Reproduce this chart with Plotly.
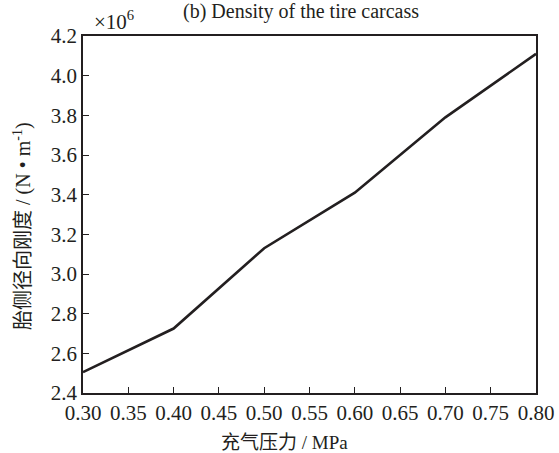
import plotly.graph_objects as go

pressure = [0.3, 0.4, 0.5, 0.6, 0.7, 0.8]
stiffness = [2.505, 2.725, 3.13, 3.41, 3.79, 4.11]  # x10^6 N/m

x_ticks = [0.30, 0.35, 0.40, 0.45, 0.50, 0.55, 0.60, 0.65, 0.70, 0.75, 0.80]
x_tick_text = ["0.30", "0.35", "0.40", "0.45", "0.50", "0.55", "0.60", "0.65", "0.70", "0.75", "0.80"]
y_ticks = [2.4, 2.6, 2.8, 3.0, 3.2, 3.4, 3.6, 3.8, 4.0, 4.2]
y_tick_text = ["2.4", "2.6", "2.8", "3.0", "3.2", "3.4", "3.6", "3.8", "4.0", "4.2"]

serif = "Liberation Serif, Times New Roman, serif"
cjk = "Liberation Serif, Noto Sans CJK SC, serif"
ink = "#231f20"

W, H = 559, 453
L, R, T, B = 83, 23, 36, 60
pw, ph = W - L - R, H - T - B

fig = go.Figure()
fig.add_trace(go.Scatter(x=pressure, y=stiffness, mode="lines",
                         line=dict(color=ink, width=2.6), showlegend=False))

fig.update_layout(
    width=W, height=H,
    margin=dict(l=L, r=R, t=T, b=B, autoexpand=False),
    font=dict(family=serif, color=ink),
    plot_bgcolor="white", paper_bgcolor="white",
    title=dict(text="(b) Density of the tire carcass", x=(301 / W), xanchor="center",
               y=1 - 11 / H, yanchor="middle", yref="container", pad=dict(t=0),
               font=dict(family=serif, size=20, color=ink)),
    xaxis=dict(range=[0.3, 0.8], tickvals=x_ticks, ticktext=x_tick_text,
               ticks="inside", ticklen=6, tickwidth=1.3, tickcolor=ink,
               showline=True, linecolor=ink, linewidth=1.5, mirror=True,
               showgrid=False, zeroline=False, automargin=False,
               tickfont=dict(family=serif, size=21, color=ink)),
    yaxis=dict(range=[2.4, 4.2], tickvals=y_ticks, ticktext=y_tick_text,
               ticks="inside", ticklen=6, tickwidth=1.3, tickcolor=ink,
               showline=True, linecolor=ink, linewidth=1.5, mirror=True,
               showgrid=False, zeroline=False, automargin=False,
               tickfont=dict(family=serif, size=21, color=ink)),
    annotations=[
        dict(text="×10<sup>6</sup>", xref="paper", yref="paper",
             x=(92 - L) / pw, y=1.0, xanchor="left", yanchor="bottom", showarrow=False,
             font=dict(family=serif, size=21, color=ink)),
        dict(text="胎侧径向刚度 / (N • m<sup>-1</sup>)", xref="paper", yref="paper",
             x=(22 - L) / pw, y=(H - B - 226) / ph, xanchor="center", yanchor="middle",
             textangle=-90, showarrow=False,
             font=dict(family=cjk, size=20, color=ink)),
        dict(text="充气压力 / MPa", xref="paper", yref="paper",
             x=(284 - L) / pw, y=-(442 - (H - B)) / ph, xanchor="center", yanchor="middle",
             showarrow=False, font=dict(family=cjk, size=19, color=ink)),
    ],
)

fig.write_html("out.html")
